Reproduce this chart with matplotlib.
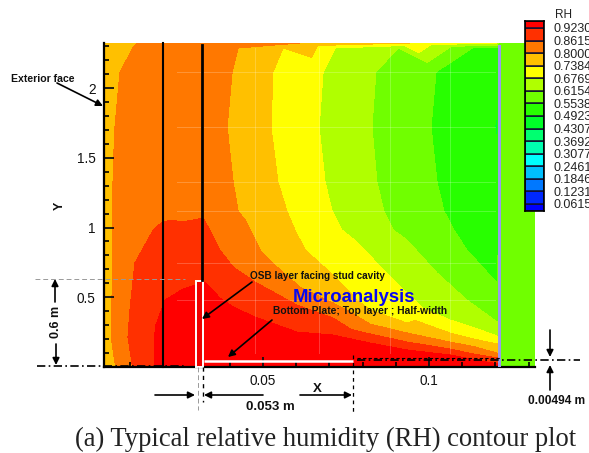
import numpy as np
import matplotlib
matplotlib.use("Agg")
import matplotlib.pyplot as plt
from matplotlib.patches import Rectangle
from matplotlib.ticker import MultipleLocator, FixedLocator
from matplotlib.tri import Triangulation

W, H = 589, 453
plt.rcParams['font.family'] = ['Liberation Sans', 'DejaVu Sans']

# RH contour levels and their colours (low to high)
levels = [0.0615, 0.1231, 0.1846, 0.2461, 0.3077, 0.3692, 0.4307, 0.4923,
          0.5538, 0.6154, 0.6769, 0.7384, 0.8000, 0.8615, 0.9230]
level_labels = ['0.0615', '0.1231', '0.1846', '0.2461', '0.3077', '0.3692', '0.4307', '0.4923',
                '0.5538', '0.6154', '0.6769', '0.7384', '0.8000', '0.8615', '0.9230']
band_colors = ['#0000FF', '#0028FF', '#0078FF', '#00C0FF', '#00FFFF', '#00FFB0', '#00FF70', '#00FF28',
               '#28FF00', '#70FF00', '#B0FF00', '#FFFF00', '#FFC000', '#FF7800', '#FF3000', '#FF0000']

x_080_left = [.0120, .0108, .0069, .0054, .0050, .0048, .0048, .0047, .0046, .0045, .0045, .0045, .0054, .0060]
y_080_left = [2.323, 2.287, 2.115, 1.720, 1.500, 1.326, 1.100, .932, .700, .500, .350, .172, .029, 0]
x_080_right = [.0611, .0425, .0407, .0392, .0410, .0425, .0446, .0491, .0542, .0611, .0711, .0822, .0934, .1063, .1205]
y_080_right = [2.323, 2.287, 2.115, 1.720, 1.326, 1.118, 1.054, .839, .717, .573, .459, .308, .244, .179, .100]
x_0738 = [.0943, .0560, .0530, .0524, .0545, .0572, .0596, .0627, .0711, .0783, .0822, .0934, .1063, .1205]
y_0738 = [2.323, 2.287, 2.115, 1.720, 1.326, 1.118, .982, .839, .659, .480, .409, .315, .244, .165]
x_0677 = [.1205, .0717, .0681, .0669, .0687, .0708, .0738, .0783, .0883, .0982, .1063, .1205]
y_0677 = [2.323, 2.287, 2.115, 1.720, 1.326, 1.118, .982, .896, .645, .423, .337, .222]
x_0615 = [.0907, .0840, .0828, .0843, .0864, .0892, .0934, .1024, .1114, .1205]
y_0615 = [2.287, 2.115, 1.720, 1.326, 1.118, .982, .910, .674, .480, .323]
x_0554 = [.1130, .1021, .1006, .1024, .1045, .1075, .1114, .1205]
y_0554 = [2.287, 2.115, 1.720, 1.326, 1.118, .982, .839, .602]
x_0862 = [.0108, .0105, .0093, .0099, .0114, .0169, .0196, .0226, .0256, .0289, .0319, .0340, .0370, .0410, .0476,
          .0602, .0711, .0822, .0934, .1063, .1205]
y_0862 = [0, .029, .215, .409, .746, .982, 1.039, 1.054, 1.039, 1.025, 1.068, .982, .839, .717, .609,
          .444, .351, .237, .179, .129, .065]
x_0923 = [.0172, .0172, .0175, .0205, .0259, .0295, .0325, .0370, .0410, .0476, .0602, .0711, .0822, .0934, .1063, .1205]
y_0923 = [0, .014, .287, .480, .559, .566, .609, .495, .430, .358, .251, .229, .172, .122, .086, .022]

# RH read along the exterior face (left edge of the plot)
y_face = [0, .029, .172, .350, .500, .700, .932, 1.100, 1.326, 1.500, 1.720, 2.115, 2.287, 2.323]
rh_face = [.77, .77, .77, .77, .77, .77, .77, .77, .77, .77, .77, .77, .77, .77]

# RH read along the stud cavity side of the wall
y_wall = [2.287, 2.115, 1.720, 1.500, 1.326, 1.150, .982, .800]
rh_wall = [.53, .50, .49, .495, .50, .51, .52, .535]

# Other RH readings inside the bands (X, Y, RH)
x_extra = [.0220, .0220, .0220, .0220, .0220,
           .0300, .0600, .0900, .1205, .0300, .0600]
y_extra = [2.323, 2.287, 2.115, 1.720, 1.326,
           0, 0, 0, 0, .30, .10]
rh_extra = [.82, .83, .84, .85, .855,
            .95, .95, .95, .95, .95, .95]

# Solid region to the right of the wall
y_right = [2.323, 2.287, 2.115, 1.720, 1.500, 1.326, 1.150, .982, .800, .602, .323, .222,
           .165, .100, .065, .022, 0]
rh_right = [.58] * 17
y_right_edge = [2.323, 0]
rh_right_edge = [.58, .58]

iso = [(x_080_left, y_080_left, .80), (x_080_right, y_080_right, .80), (x_0738, y_0738, .7384),
       (x_0677, y_0677, .6769), (x_0615, y_0615, .6154), (x_0554, y_0554, .5538),
       (x_0862, y_0862, .8615), (x_0923, y_0923, .923)]
xs = np.concatenate([np.array(a, float) for a, _, _ in iso] +
                    [np.full(len(y_face), .0021), np.full(len(y_wall), .1205), x_extra,
                     np.full(len(y_right), .1211), np.full(2, .1319)])
ys = np.concatenate([np.array(b, float) for _, b, _ in iso] + [y_face, y_wall, y_extra, y_right, y_right_edge])
zs = np.concatenate([np.full(len(a), c) for a, _, c in iso] + [rh_face, rh_wall, rh_extra, rh_right, rh_right_edge])
keep = np.unique(np.round(np.c_[xs, ys], 5), axis=0, return_index=True)[1]
xs, ys, zs = xs[keep], ys[keep], zs[keep]

fig = plt.figure(figsize=(W / 100, H / 100), dpi=100, facecolor='white')


def px_axes(l, t, r, b, **kw):
    return fig.add_axes([l / W, 1 - b / H, (r - l) / W, (b - t) / H], **kw)


ax = px_axes(104, 43, 535, 367)
# triangles are built with both axes on the plotted scale, then used in data units
tri = Triangulation(xs, ys, Triangulation(xs / .1298, ys / 2.323 * .75).triangles)
ax.tricontourf(tri, zs, levels=[0] + levels + [1], colors=band_colors, zorder=1)
ax.set_xlim(.0021, .1319)
ax.set_ylim(0, 2.323)
for s in ('top', 'right'):
    ax.spines[s].set_visible(False)
for s in ('left', 'bottom'):
    ax.spines[s].set_linewidth(1.6)
ax.xaxis.set_major_locator(FixedLocator([.05, .1]))
ax.xaxis.set_minor_locator(MultipleLocator(.01))
ax.yaxis.set_major_locator(FixedLocator([.5, 1, 1.5, 2]))
ax.yaxis.set_minor_locator(MultipleLocator(.1))
ax.set_xticklabels(['0.05', '0.1'])
ax.set_yticklabels(['0.5', '1', '1.5', '2'])
ax.tick_params(which='major', direction='in', length=7, width=1.3, labelsize=9.8, pad=5, colors='#111111')
ax.tick_params(which='minor', direction='in', length=3.6, width=1.2)
ax.tick_params(axis='y', which='major', pad=6)

# faint mesh lines
mesh_rows = [2.115, 1.720, 1.326, 1.118, .746, .480]
mesh_cols = [.0476, .0669, .0883, .1063]
for yy in mesh_rows:
    ax.plot([.0240, .1200], [yy, yy], color='white', alpha=.22, lw=.7, zorder=2)
for xx in mesh_cols:
    ax.plot([xx, xx], [.1, 2.29], color='white', alpha=.22, lw=.7, zorder=2)

# annotation overlay in pixel coordinates
ov = fig.add_axes([0, 0, 1, 1], facecolor='none')
ov.set_xlim(0, W)
ov.set_ylim(H, 0)
ov.axis('off')

ov.plot([163, 163], [43, 367], color='black', lw=1.5)
ov.plot([202, 202], [45, 280], color='black', lw=2)
ov.add_patch(Rectangle((497.5, 45), 3.5, 322, fc='#9A9AEE', ec='none'))
ov.add_patch(Rectangle((195.5, 280.5), 7.5, 86, fc='#EE0000', ec='white', lw=1.4))
ov.plot([204, 353], [361, 361], color='white', lw=1.8, solid_capstyle='butt')


def arrow(x0, y0, x1, y1, lw=1.2):
    ov.annotate('', xy=(x1, y1), xytext=(x0, y0),
                arrowprops=dict(arrowstyle='-|>', color='black', lw=lw, mutation_scale=10,
                                shrinkA=0, shrinkB=0))


arrow(57, 83, 103, 106)
arrow(252, 282, 202, 319)
arrow(272, 320, 228, 357)
arrow(55, 302, 55, 279)
arrow(56, 344, 56, 365)
arrow(155, 395, 195, 395)
arrow(263, 395, 204, 395)
arrow(300, 395, 352, 395)
arrow(550, 330, 550, 357)
arrow(550, 390, 550, 365)

ov.plot([35, 185], [279, 279], color='#999999', lw=.7, ls=(0, (5, 3)))
ov.plot([37, 187], [366, 366], color='black', lw=1.2, ls=(0, (5, 2, 1, 2)))
ov.plot([357, 580], [360, 360], color='black', lw=1.2, ls=(0, (5, 2, 1, 2)))
ov.plot([357, 500], [358, 358], color='black', lw=.8, ls=(0, (3, 2)))
ov.plot([198, 198], [367, 410], color='#999999', lw=.7, ls=(0, (5, 3)))
ov.plot([203, 203], [367, 402], color='black', lw=1, ls=(0, (3, 3)))
ov.plot([353, 353], [355, 412], color='black', lw=.9, ls=(0, (3, 3)))

bold = dict(fontweight='bold', color='#111111', ha='center', va='center')
ov.text(43, 79, 'Exterior face', fontsize=7.6, **bold)
ov.text(60, 206, 'Y', fontsize=9, rotation=90, **bold)
ov.text(317, 389, 'X', fontsize=9.5, **bold)
ov.text(56, 322, '0.6 m', fontsize=9, rotation=90, **bold)
ov.text(270, 407, '0.053 m', fontsize=9.5, **bold)
ov.text(557, 401, '0.00494 m', fontsize=8.6, **bold)
ov.text(317, 276, 'OSB layer facing stud cavity', fontsize=7.2, **bold)
ov.text(360, 311, 'Bottom Plate; Top layer ; Half-width', fontsize=7.4, **bold)
t = ov.text(354, 297, 'Microanalysis', fontsize=13.4, fontweight='bold', color='#0808F0', ha='center', va='center')
clip = Rectangle((280, 285), 150, 20, transform=ov.transData)
t.set_clip_path(clip)
ov.text(326, 439, '(a) Typical relative humidity (RH) contour plot', fontsize=19.2,
        family='Liberation Serif', color='#222222', ha='center', va='center')

# legend
cax = px_axes(525, 21, 544, 211)
edges = [.027] + levels + [.957]
for lo, hi, c in zip(edges[:-1], edges[1:], band_colors):
    cax.bar(0, hi - lo, bottom=lo, width=1, color=c, edgecolor='#111133', linewidth=1.1)
cax.set_xlim(-.5, .5)
cax.set_ylim(.027, .957)
cax.set_xticks([])
cax.set_yticks(levels)
cax.set_yticklabels(level_labels)
cax.yaxis.tick_right()
cax.tick_params(length=0, labelsize=9, pad=7, colors='#222222')
for s in cax.spines.values():
    s.set_linewidth(1.2)
ov.set_zorder(3)
cax.set_zorder(4)
ov.text(564, 15, 'RH', fontsize=8.5, color='#222222', ha='center', va='center')

fig.savefig('out.png', dpi=100)
